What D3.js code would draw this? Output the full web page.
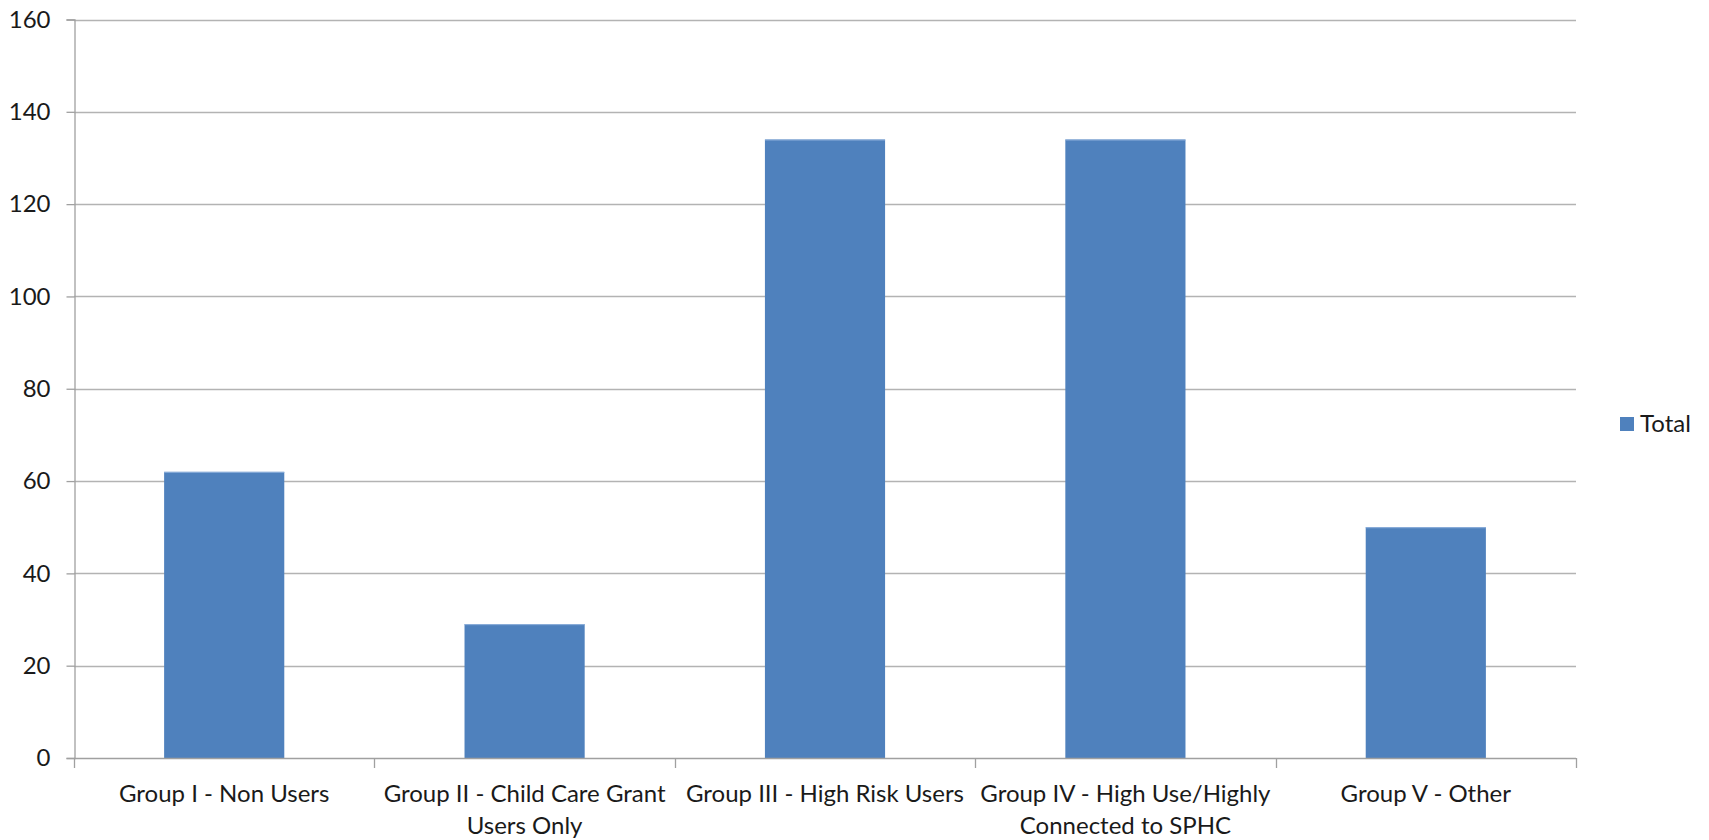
<!DOCTYPE html>
<html>
<head>
<meta charset="utf-8">
<script src="https://cdn.jsdelivr.net/npm/d3@7"></script>
<style>
  html, body { margin: 0; padding: 0; background: #fff; }
  svg { display: block; }
  text { font-family: Lato, "Open Sans", sans-serif; fill: #1a1a1a; }
</style>
</head>
<body>
<svg id="chart" width="1709" height="840"></svg>
<script>
const categories = [
  ["Group I - Non Users"],
  ["Group II - Child Care Grant", "Users Only"],
  ["Group III - High Risk Users"],
  ["Group IV - High Use/Highly", "Connected to SPHC"],
  ["Group V - Other"]
];
const totalValues = [62, 29, 134, 134, 50];
const yTicks = [0, 20, 40, 60, 80, 100, 120, 140, 160];
const seriesName = "Total";

(function () {
const svg = d3.select("#chart");
const pLeft = 74, pRight = 1576, pTop = 19.5, pBottom = 758;
const fontSize = 24;

const keys = categories.map((c, i) => i);
const xBand = d3.scaleBand().domain(keys).range([pLeft, pRight]).paddingInner(0).paddingOuter(0);
const xBar = d3.scaleBand().domain(keys).range([pLeft, pRight]).paddingInner(0.6).paddingOuter(0.3);
const y = d3.scaleLinear().domain([0, 160]).range([pBottom, pTop]);

// gridlines
svg.append("g").selectAll("line").data(yTicks.filter(d => d > 0)).join("line")
  .attr("x1", pLeft).attr("x2", pRight)
  .attr("y1", d => Math.round(y(d)) + 0.5).attr("y2", d => Math.round(y(d)) + 0.5)
  .attr("stroke", "#b3b3b3").attr("stroke-width", 1.3);

// y axis
const yAxis = d3.axisLeft(y).tickValues(yTicks).tickSize(8).tickPadding(16);
const gy = svg.append("g").attr("transform", `translate(${pLeft + 0.5},0)`).call(yAxis);
gy.select(".domain").attr("stroke", "#a0a0a0").attr("stroke-width", 1.3);
gy.selectAll(".tick line").attr("stroke", "#a0a0a0").attr("stroke-width", 1.3);
gy.selectAll(".tick text").attr("font-size", fontSize).attr("font-family", "Lato").attr("fill", "#1a1a1a");

// bars
svg.append("g").selectAll("rect").data(totalValues).join("rect")
  .attr("x", (d, i) => xBar(i))
  .attr("width", xBar.bandwidth())
  .attr("y", d => y(d))
  .attr("height", d => y(0) - y(d))
  .attr("fill", "#4f81bd");
svg.append("g").selectAll("line").data(totalValues).join("line")
  .attr("x1", (d, i) => xBar(i)).attr("x2", (d, i) => xBar(i) + xBar.bandwidth())
  .attr("y1", d => y(d) + 0.5).attr("y2", d => y(d) + 0.5)
  .attr("stroke", "#8eb0db").attr("stroke-width", 1);

// x axis
const boundaries = keys.map(k => xBand(k)).concat([pRight]);
const gx = svg.append("g");
gx.append("line").attr("x1", pLeft).attr("x2", pRight)
  .attr("y1", pBottom + 0.5).attr("y2", pBottom + 0.5)
  .attr("stroke", "#a0a0a0").attr("stroke-width", 1.3);
gx.selectAll("line.tick").data(boundaries).join("line").attr("class", "tick")
  .attr("x1", d => Math.round(d) + 0.5).attr("x2", d => Math.round(d) + 0.5)
  .attr("y1", pBottom).attr("y2", pBottom + 10)
  .attr("stroke", "#a0a0a0").attr("stroke-width", 1.3);
const labels = gx.selectAll("text.lbl").data(categories).join("text").attr("class", "lbl")
  .attr("text-anchor", "middle").attr("font-size", fontSize)
  .attr("x", (d, i) => xBand(i) + xBand.bandwidth() / 2)
  .attr("y", 801.5);
labels.selectAll("tspan").data(d => d).join("tspan")
  .attr("x", function() { return d3.select(this.parentNode).attr("x"); })
  .attr("dy", (d, j) => j === 0 ? 0 : 32)
  .text(d => d);

// legend
const lg = svg.append("g");
lg.append("rect").attr("x", 1620).attr("y", 417).attr("width", 14).attr("height", 14).attr("fill", "#4f81bd");
lg.append("text").attr("x", 1640).attr("y", 432).attr("font-size", fontSize).text(seriesName);
})();
</script>
</body>
</html>
